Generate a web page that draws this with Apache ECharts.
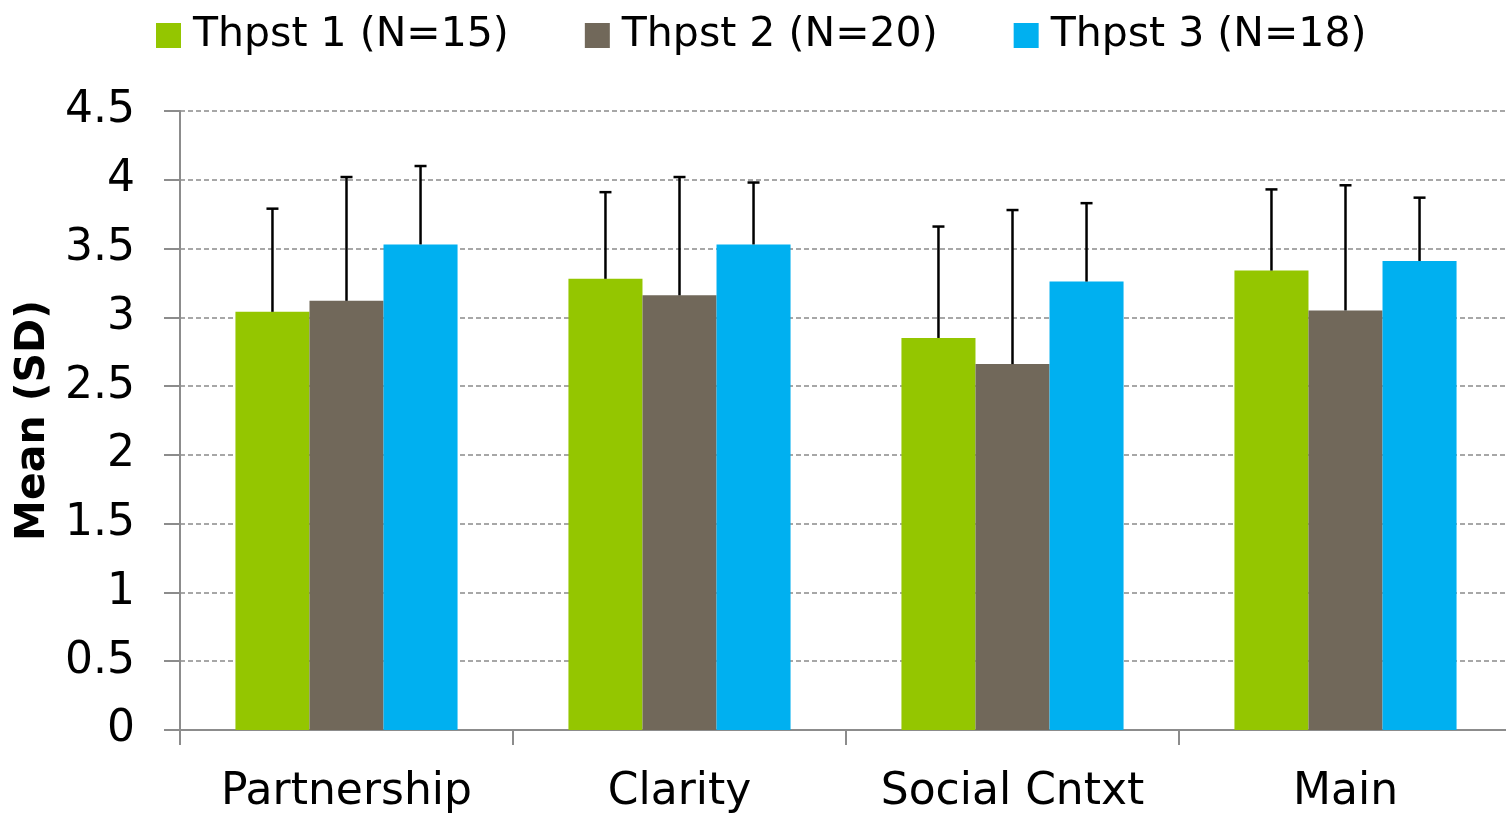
<!DOCTYPE html>
<html>
<head>
<meta charset="utf-8">
<script src="https://cdn.jsdelivr.net/npm/echarts@6/dist/echarts.min.js"></script>
<style>
  html, body { margin: 0; padding: 0; background: #fff; overflow: hidden; }
  #chart { width: 1512px; height: 816px; }
</style>
</head>
<body>
<div id="chart"></div>
<script>
// categories and series
var categories = ['Partnership', 'Clarity', 'Social Cntxt', 'Main'];
var seriesNames = ['Thpst 1 (N=15)', 'Thpst 2 (N=20)', 'Thpst 3 (N=18)'];
var yTicks = [0, 0.5, 1, 1.5, 2, 2.5, 3, 3.5, 4, 4.5];

var mean1 = [3.04, 3.28, 2.85, 3.34];
var mean2 = [3.12, 3.16, 2.66, 3.05];
var mean3 = [3.53, 3.53, 3.26, 3.41];

var sd1 = [0.75, 0.63, 0.81, 0.59];
var sd2 = [0.90, 0.86, 1.12, 0.91];
var sd3 = [0.57, 0.45, 0.57, 0.46];

var colors = ['#94C600', '#71685A', '#00B0F0'];
var catGap = 0.333; // fraction of band left empty

// plot runs a little past the right edge of the window, like the original
var chart = echarts.init(document.getElementById('chart'));

var means = [mean1, mean2, mean3];
var sds = [sd1, sd2, sd3];

// error bars: one custom series per group, drawn over the bars
function errorSeries(k) {
  var data = means[k].map(function (m, i) { return [i, m, sds[k][i]]; });
  return {
    type: 'custom',
    name: seriesNames[k] + ' SD',
    z: 10,
    silent: true,
    data: data,
    encode: { x: 0, y: 1 },
    renderItem: function (params, api) {
      var band = api.size([1, 0])[0];
      var barW = band * (1 - catGap) / 3;
      var base = api.coord([api.value(0), api.value(1)]);
      var top = api.coord([api.value(0), api.value(1) + api.value(2)]);
      var x = base[0] + (k - 1) * barW;
      var style = { stroke: '#000', lineWidth: 2.5 };
      return {
        type: 'group',
        children: [
          { type: 'line', shape: { x1: x, y1: base[1], x2: x, y2: top[1] }, style: style },
          { type: 'line', shape: { x1: x - 6, y1: top[1], x2: x + 6, y2: top[1] }, style: style }
        ]
      };
    }
  };
}

var barSeries = means.map(function (m, k) {
  return {
    name: seriesNames[k],
    type: 'bar',
    data: m,
    barGap: '0%',
    barCategoryGap: (catGap * 100) + '%',
    itemStyle: { color: colors[k] }
  };
});

var option = {
  animation: false,
  textStyle: { fontFamily: 'DejaVu Sans' },
  legend: {
    data: seriesNames,
    left: 151,
    top: 10,
    itemGap: 76,
    itemWidth: 25,
    itemHeight: 25,
    icon: 'rect',
    textStyle: { fontSize: 41, color: '#000', fontFamily: 'DejaVu Sans', padding: [0, 0, 0, 7] }
  },
  grid: {
    left: 180,
    top: 111,
    right: 0,
    bottom: 86,
    containLabel: false
  },
  xAxis: {
    type: 'category',
    data: categories,
    axisLine: { lineStyle: { color: '#8c8c8c', width: 2 } },
    axisTick: { show: true, interval: 0, length: 15, lineStyle: { color: '#8c8c8c', width: 2 } },
    axisLabel: { interval: 0, fontSize: 44, color: '#000', margin: 41, fontFamily: 'DejaVu Sans' }
  },
  yAxis: {
    type: 'value',
    min: yTicks[0],
    max: yTicks[yTicks.length - 1],
    interval: 0.5,
    name: 'Mean (SD)',
    nameLocation: 'middle',
    nameGap: 109,
    nameTextStyle: { fontSize: 41, fontWeight: 'bold', color: '#000', fontFamily: 'DejaVu Sans' },
    axisLine: { show: true, lineStyle: { color: '#8c8c8c', width: 2 } },
    axisTick: { show: true, length: 16, lineStyle: { color: '#8c8c8c', width: 2 } },
    axisLabel: { fontSize: 44, color: '#000', margin: 45, fontFamily: 'DejaVu Sans' },
    splitLine: { show: true, lineStyle: { color: '#8a8a8a', width: 1.5, type: [5, 3] } }
  },
  series: barSeries.concat([errorSeries(0), errorSeries(1), errorSeries(2)])
};

chart.setOption(option);
window.addEventListener('resize', function () { chart.resize(); });
</script>
</body>
</html>
